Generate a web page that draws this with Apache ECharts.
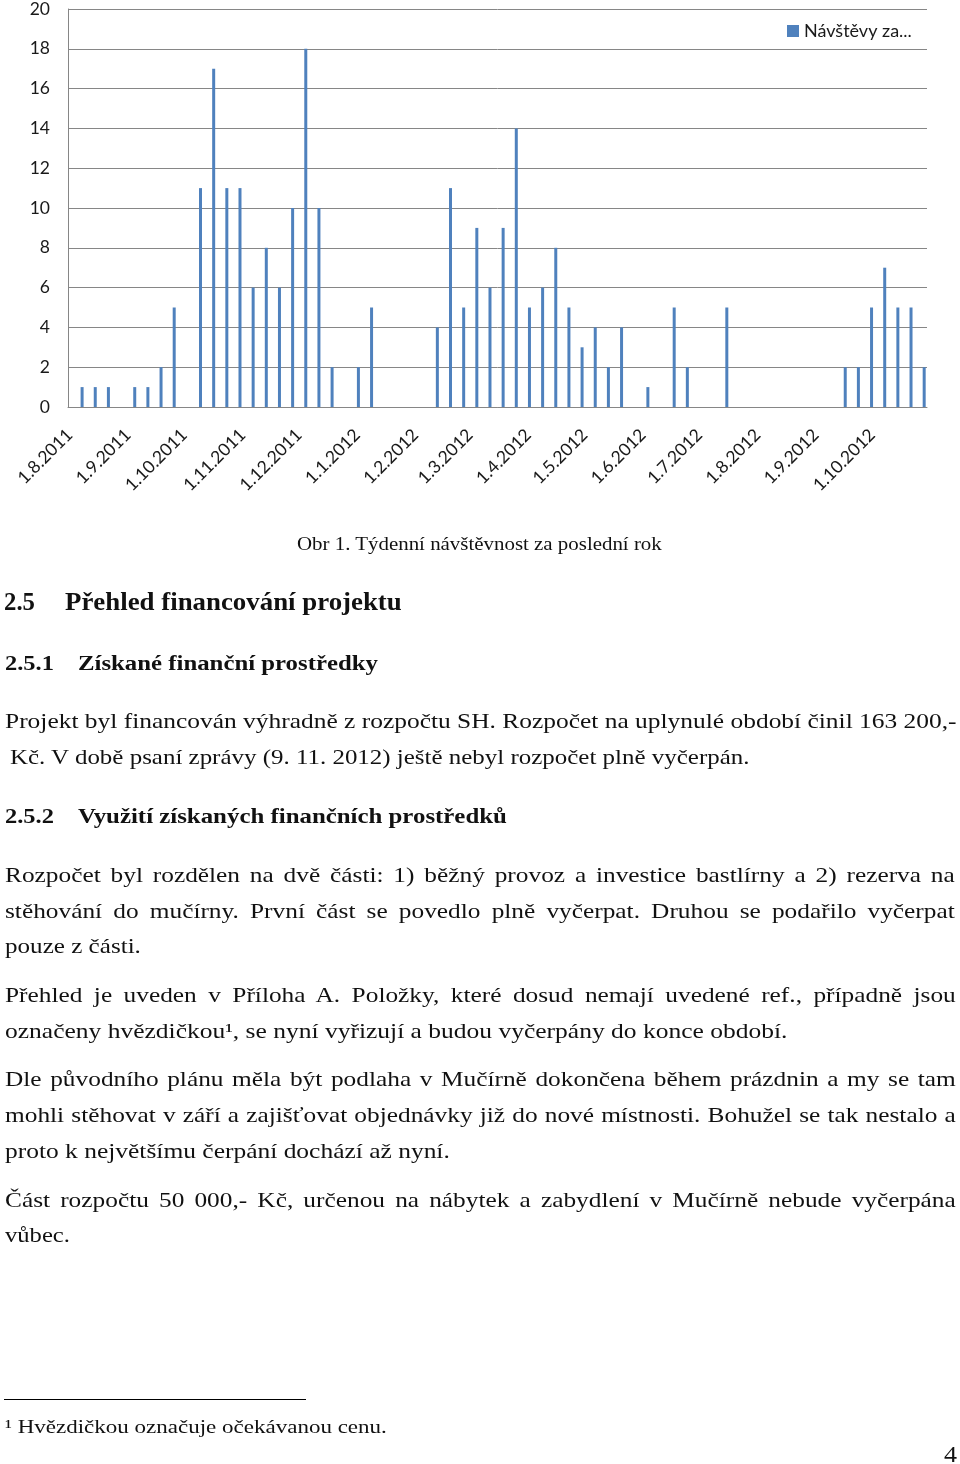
<!DOCTYPE html>
<html><head><meta charset="utf-8">
<script src="https://cdn.jsdelivr.net/npm/echarts@6.0.0/dist/echarts.min.js"></script>
<style>
html,body{margin:0;padding:0;background:#fff;width:960px;height:1464px;overflow:hidden}
#chart{position:absolute;left:0;top:0;width:960px;height:510px}
#page{position:absolute;left:0;top:0;pointer-events:none}
</style></head><body>
<div id="chart"></div>
<svg id="page" width="960" height="1464" xmlns="http://www.w3.org/2000/svg"></svg>
<script>
// ---------- chart data ----------
const seriesName = 'Návštěvy za...';
const axisStart = '2011-08-01';   // first day on the date axis
const axisDays = 457;             // 1.8.2011 .. 31.10.2012
const firstWeek = '2011-08-08';   // date of first weekly value
const weeklyVisits = [
  1, 1, 1, 0, 1, 1, 2, 5, 0, 11,
  17, 11, 11, 6, 8, 6, 10, 18, 10, 2,
  0, 2, 5, 0, 0, 0, 0, 4, 11, 5,
  9, 6, 9, 14, 5, 6, 8, 5, 3, 4,
  2, 4, 0, 1, 0, 5, 2, 0, 0, 5,
  0, 0, 0, 0, 0, 0, 0, 0, 2, 2,
  5, 7, 5, 5, 2
];
const monthLabels = ['1.8.2011','1.9.2011','1.10.2011','1.11.2011','1.12.2011','1.1.2012',
  '1.2.2012','1.3.2012','1.4.2012','1.5.2012','1.6.2012','1.7.2012','1.8.2012','1.9.2012','1.10.2012'];
const yMin = 0, yMax = 20, yStep = 2;

// ---------- page text ----------
const textLines = [
  {t:'Obr 1. Týdenní návštěvnost za poslední rok', x0:297, x1:662, y:550, size:19, kind:'cap'},
  {t:'2.5', x0:4, x1:35, y:610, size:25, bold:true, kind:'h'},
  {t:'Přehled financování projektu', x0:65, x1:402, y:610, size:25, bold:true, kind:'h'},
  {t:'2.5.1', x0:5, x1:54, y:670, size:22, bold:true, kind:'h'},
  {t:'Získané finanční prostředky', x0:78, x1:378, y:670, size:22, bold:true, kind:'h'},
  {t:'Projekt byl financován výhradně z rozpočtu SH. Rozpočet na uplynulé období činil 163 200,-', x0:5, x1:957, y:728, size:21.5, kind:'b'},
  {t:'Kč. V době psaní zprávy (9. 11. 2012) ještě nebyl rozpočet plně vyčerpán.', x0:10, x1:750, y:764, size:21.5, kind:'b'},
  {t:'2.5.2', x0:5, x1:54, y:823, size:22, bold:true, kind:'h'},
  {t:'Využití získaných finančních prostředků', x0:78, x1:507, y:823, size:22, bold:true, kind:'h'},
  {t:'Rozpočet byl rozdělen na dvě části: 1) běžný provoz a investice bastlírny a 2) rezerva na', x0:5, x1:955, y:882, size:21.5, kind:'b', j:true},
  {t:'stěhování do mučírny. První část se povedlo plně vyčerpat. Druhou se podařilo vyčerpat', x0:5, x1:955, y:918, size:21.5, kind:'b', j:true},
  {t:'pouze z části.', x0:5, x1:141, y:953, size:21.5, kind:'b'},
  {t:'Přehled je uveden v Příloha A. Položky, které dosud nemají uvedené ref., případně jsou', x0:5, x1:956, y:1002, size:21.5, kind:'b', j:true},
  {t:'označeny hvězdičkou¹, se nyní vyřizují a budou vyčerpány do konce období.', x0:5, x1:788, y:1038, size:21.5, kind:'b'},
  {t:'Dle původního plánu měla být podlaha v Mučírně dokončena během prázdnin a my se tam', x0:5, x1:956, y:1086, size:21.5, kind:'b', j:true},
  {t:'mohli stěhovat v září a zajišťovat objednávky již do nové místnosti. Bohužel se tak nestalo a', x0:5, x1:956, y:1122, size:21.5, kind:'b', j:true},
  {t:'proto k největšímu čerpání dochází až nyní.', x0:5, x1:450, y:1158, size:21.5, kind:'b'},
  {t:'Část rozpočtu 50 000,- Kč, určenou na nábytek a zabydlení v Mučírně nebude vyčerpána', x0:5, x1:956, y:1207, size:21.5, kind:'b', j:true},
  {t:'vůbec.', x0:5, x1:70, y:1242, size:21.5, kind:'b'},
  {t:'¹ Hvězdičkou označuje očekávanou cenu.', x0:5, x1:387, y:1433, size:19, kind:'f'},
  {t:'4', x0:944, x1:957, y:1462, size:23, kind:'p'}
];

// ---------- build chart ----------
function parseUTC(s){const p=s.split('-').map(Number);return Date.UTC(p[0],p[1]-1,p[2]);}
const DAY = 86400000;
const start = parseUTC(axisStart);
const days = [];
for (let i = 0; i < axisDays; i++) {
  const d = new Date(start + i*DAY);
  days.push(d.getUTCDate() + '.' + (d.getUTCMonth()+1) + '.' + d.getUTCFullYear());
}
const daily = new Array(axisDays).fill(null);
const w0 = Math.round((parseUTC(firstWeek) - start)/DAY);
weeklyVisits.forEach((v, i) => { daily[w0 + 7*i] = v; });

const chart = echarts.init(document.getElementById('chart'), null, {renderer:'canvas'});
const gridColor = '#868686';
const labelFont = 'Lato, "Open Sans", sans-serif';
chart.setOption({
  animation:false,
  textStyle:{fontFamily:labelFont},
  legend:{
    data:[seriesName], left:782, top:17, padding:5, icon:'rect', itemWidth:12, itemHeight:12,
    textStyle:{fontSize:18, color:'#1a1a1a', fontFamily:labelFont}
  },
  grid:{left:68, top:7, right:33, bottom:103, containLabel:false},
  xAxis:{
    type:'category', data:days, boundaryGap:true,
    axisLine:{show:true, lineStyle:{color:gridColor, width:1}},
    axisTick:{show:false},
    splitLine:{show:false},
    axisLabel:{
      interval:(idx, val) => monthLabels.indexOf(val) >= 0,
      rotate:45, align:'right', verticalAlign:'top', margin:13, padding:[0,8,0,0],
      fontSize:17.5, color:'#1a1a1a', fontFamily:labelFont
    }
  },
  yAxis:{
    type:'value', min:yMin, max:yMax, interval:yStep,
    axisLine:{show:true, lineStyle:{color:gridColor, width:1}},
    axisTick:{show:false},
    splitLine:{show:true, lineStyle:{color:gridColor, width:1}},
    axisLabel:{margin:18, fontSize:17.5, color:'#1a1a1a', fontFamily:labelFont}
  },
  series:[{
    name:seriesName, type:'bar', data:daily, barWidth:3,
    itemStyle:{color:'#4F81BD'}
  }]
});

// ---------- build page text ----------
const NS = 'http://www.w3.org/2000/svg';
const svg = document.getElementById('page');
const rule = document.createElementNS(NS,'line');
rule.setAttribute('x1','4'); rule.setAttribute('x2','306');
rule.setAttribute('y1','1399.5'); rule.setAttribute('y2','1399.5');
rule.setAttribute('stroke','#000'); rule.setAttribute('stroke-width','1.2');
svg.appendChild(rule);

const items = textLines.map(l => {
  const g = document.createElementNS(NS,'g');
  const tx = document.createElementNS(NS,'text');
  tx.setAttribute('x','0'); tx.setAttribute('y','0');
  tx.setAttribute('font-family','"Liberation Serif", "DejaVu Serif", serif');
  tx.setAttribute('font-size', l.size);
  if (l.bold) tx.setAttribute('font-weight','bold');
  tx.setAttribute('fill','#111');
  tx.textContent = l.t;
  g.appendChild(tx); svg.appendChild(g);
  return {l, g, tx, L: tx.getComputedTextLength()};
});
// glyph stretch factor for body text, from lines that are not justified
const ratios = items.filter(it => it.l.kind==='b' && !it.l.j && it.l.t.length > 20)
  .map(it => (it.l.x1 - it.l.x0)/it.L);
const fBody = ratios.reduce((a,b)=>a+b,0)/ratios.length;
items.forEach(it => {
  const l = it.l, W = l.x1 - l.x0;
  let s;
  if (l.j) {
    s = fBody;
    const n = (l.t.match(/ /g) || []).length;
    const ws = (W/s - it.L)/n;
    it.tx.style.wordSpacing = ws + 'px';
  } else {
    s = W / it.L;
  }
  it.g.setAttribute('transform', 'translate(' + l.x0 + ',' + l.y + ') scale(' + s + ',1)');
});
</script>
</body></html>
